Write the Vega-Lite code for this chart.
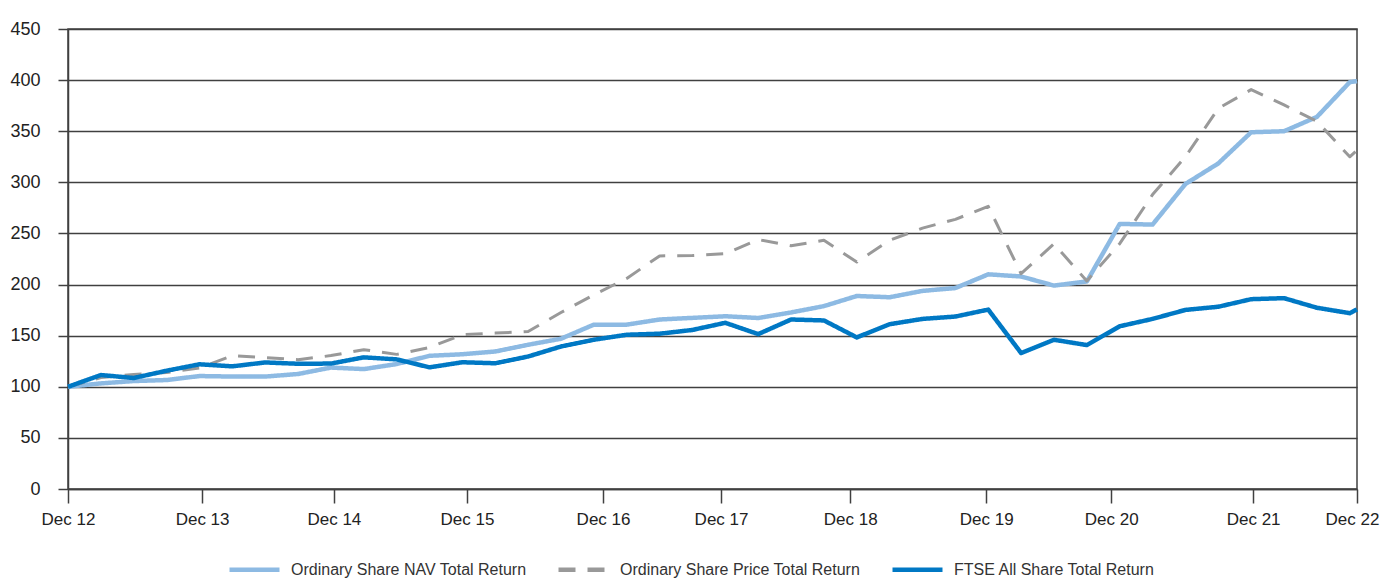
{
  "$schema": "https://vega.github.io/schema/vega-lite/v6.json",
  "width": 1289,
  "height": 460,
  "autosize": "none",
  "padding": {"left": 68, "top": 29, "right": 24, "bottom": 90},
  "background": "white",
  "config": {
    "font": "Liberation Sans",
    "view": {"stroke": "#404040", "strokeWidth": 1.5}
  },
  "datasets": {
    "returns": [
      {"q": 0, "nav": 100, "price": 100, "ftse": 100},
      {"q": 1, "nav": 103.3, "price": 109, "ftse": 111.5},
      {"q": 2, "nav": 105.6, "price": 112, "ftse": 108.6},
      {"q": 3, "nav": 106.6, "price": 114, "ftse": 115.7},
      {"q": 4, "nav": 110.5, "price": 118.5, "ftse": 122},
      {"q": 5, "nav": 110, "price": 130.3, "ftse": 120},
      {"q": 6, "nav": 110, "price": 128.6, "ftse": 123.8},
      {"q": 7, "nav": 112.5, "price": 126.5, "ftse": 122.5},
      {"q": 8, "nav": 118.8, "price": 130.5, "ftse": 122.7},
      {"q": 9, "nav": 117.3, "price": 136.3, "ftse": 128.8},
      {"q": 10, "nav": 122.2, "price": 131.7, "ftse": 126.8},
      {"q": 11, "nav": 130.3, "price": 138.5, "ftse": 119},
      {"q": 12, "nav": 131.8, "price": 151, "ftse": 124},
      {"q": 13, "nav": 134.5, "price": 152.5, "ftse": 123},
      {"q": 14, "nav": 141.1, "price": 154, "ftse": 129.6},
      {"q": 15, "nav": 147, "price": 172.7, "ftse": 139.4},
      {"q": 16, "nav": 160.8, "price": 190, "ftse": 146},
      {"q": 17, "nav": 160.8, "price": 206, "ftse": 150.9},
      {"q": 18, "nav": 165.8, "price": 228, "ftse": 151.9},
      {"q": 19, "nav": 167.4, "price": 228.4, "ftse": 155.6},
      {"q": 20, "nav": 169, "price": 230.2, "ftse": 162.6},
      {"q": 21, "nav": 167.3, "price": 244, "ftse": 151.5},
      {"q": 22, "nav": 172.7, "price": 238, "ftse": 165.8},
      {"q": 23, "nav": 178.9, "price": 243.3, "ftse": 164.9},
      {"q": 24, "nav": 188.8, "price": 222, "ftse": 148.3},
      {"q": 25, "nav": 187.6, "price": 243.3, "ftse": 161.2},
      {"q": 26, "nav": 193.8, "price": 255.2, "ftse": 166.4},
      {"q": 27, "nav": 196.6, "price": 263.8, "ftse": 168.7},
      {"q": 28, "nav": 210, "price": 276.5, "ftse": 175.5},
      {"q": 29, "nav": 207.9, "price": 210.6, "ftse": 133},
      {"q": 30, "nav": 199, "price": 239.8, "ftse": 146},
      {"q": 31, "nav": 203, "price": 203.5, "ftse": 140.8},
      {"q": 32, "nav": 259.3, "price": 240, "ftse": 159.2},
      {"q": 33, "nav": 258.7, "price": 288, "ftse": 166.4},
      {"q": 34, "nav": 298.4, "price": 325, "ftse": 175.2},
      {"q": 35, "nav": 318.5, "price": 372.3, "ftse": 178.3},
      {"q": 36, "nav": 349, "price": 390.7, "ftse": 185.7},
      {"q": 37, "nav": 350, "price": 375.7, "ftse": 186.7},
      {"q": 38, "nav": 364, "price": 359.7, "ftse": 177.3},
      {"q": 39, "nav": 398, "price": 325, "ftse": 172},
      {"q": 39.22, "nav": 399, "price": 331.3, "ftse": 175.7}
    ]
  },
  "data": {"name": "returns"},
  "transform": [
    {"fold": ["nav", "price", "ftse"], "as": ["key", "value"]},
    {"lookup": "key", "from": {"data": {"values": [
      {"key": "nav", "series": "Ordinary Share NAV Total Return"},
      {"key": "price", "series": "Ordinary Share Price Total Return"},
      {"key": "ftse", "series": "FTSE All Share Total Return"}
    ]}, "key": "key", "fields": ["series"]}}
  ],
  "mark": {"type": "line", "strokeJoin": "round"},
  "encoding": {
    "x": {
      "field": "q", "type": "quantitative",
      "scale": {"domain": [0, 39.22], "nice": false, "zero": false},
      "axis": {
        "values": [0, 4.08, 8.09, 12.14, 16.28, 19.87, 23.8, 27.94, 31.74, 36.06, 39.22],
        "labelExpr": "'Dec ' + (12 + round(datum.value / 4))",
        "title": null, "grid": false,
        "domainColor": "#404040", "domainWidth": 1.5,
        "tickColor": "#404040", "tickWidth": 1.5, "tickSize": 14,
        "labelFontSize": 17, "labelColor": "#222222", "labelPadding": 8,
        "labelFlush": false, "labelOverlap": false,
        "labelOffset": {"condition": {"test": "datum.value > 39", "value": -5}, "value": 0}
      }
    },
    "y": {
      "field": "value", "type": "quantitative",
      "scale": {"domain": [0, 450], "nice": false},
      "axis": {
        "values": [0, 50, 100, 150, 200, 250, 300, 350, 400, 450],
        "title": null, "grid": true, "gridColor": "#404040", "gridWidth": 1.5,
        "domainColor": "#404040", "domainWidth": 1.5,
        "tickColor": "#404040", "tickWidth": 1.5, "tickSize": 10,
        "labelFontSize": 18, "labelColor": "#222222", "labelPadding": 18
      }
    },
    "color": {
      "field": "series", "type": "nominal",
      "scale": {
        "domain": ["Ordinary Share NAV Total Return", "Ordinary Share Price Total Return", "FTSE All Share Total Return"],
        "range": ["#8DBAE3", "#999999", "#0078C4"]
      },
      "legend": {
        "orient": "none", "legendX": 159, "legendY": 513,
        "direction": "horizontal", "title": null,
        "symbolType": "stroke", "symbolSize": 2500, "symbolStrokeWidth": 4.5,
        "labelFontSize": 16, "labelColor": "#333333", "labelOffset": 9,
        "columnPadding": 22, "labelLimit": 400
      }
    },
    "strokeDash": {
      "field": "series", "type": "nominal",
      "scale": {
        "domain": ["Ordinary Share NAV Total Return", "Ordinary Share Price Total Return", "FTSE All Share Total Return"],
        "range": [[1, 0], [17, 12], [1, 0]]
      }
    },
    "strokeWidth": {
      "condition": {"test": "datum.series === 'Ordinary Share Price Total Return'", "value": 3},
      "value": 4.5
    },
    "order": {"field": "q", "type": "quantitative"}
  }
}
